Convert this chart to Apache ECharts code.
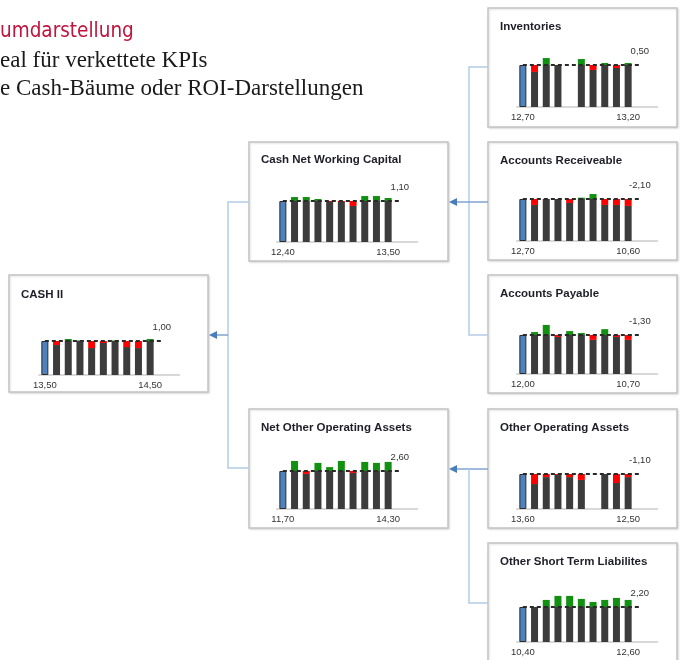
<!DOCTYPE html>
<html>
<head>
<meta charset="utf-8">
<script src="https://cdn.jsdelivr.net/npm/echarts@6/dist/echarts.min.js"></script>
<style>html,body{margin:0;padding:0;background:#fff;}#c{width:680px;height:660px;}</style>
</head>
<body>
<div id="c"></div>
<script>
// ---------- DATA ----------
const panelTitles = ['CASH II', 'Cash Net Working Capital', 'Net Other Operating Assets', 'Inventories',
  'Accounts Receiveable', 'Accounts Payable', 'Other Operating Assets', 'Other Short Term Liabilites'];
const startValues = [13.50, 12.40, 11.70, 12.70, 12.70, 12.00, 13.60, 10.40];
const endValues   = [14.50, 13.50, 14.30, 13.20, 10.60, 10.70, 12.50, 12.60];
// monthly deviations from the start level (null = no bar)
const devCash = [-1.6, 0.8, 0.2, -2.8, -0.8, 0.2, -2.4, -2.8, 0.8];
const devNWC  = [1.2, 1.2, 0.6, -0.3, -0.3, -1.5, 1.5, 1.5, 0.9];
const devNOA  = [3.1, -0.9, 2.5, 1.2, 3.1, -0.6, 2.8, 2.5, 2.8];
const devInv  = [-2.1, 2.1, 0, null, 1.8, -1.5, 0.6, -0.9, 0.6];
const devAR   = [-1.8, 0, 0, -1.2, 0.4, 1.5, -1.8, -1.8, -2.1];
const devAP   = [0.9, 3.1, -0.6, 1.2, 0.6, -1.5, 1.8, -0.6, -1.5];
const devOOA  = [-3.9, -1.2, -0.4, -1.2, -2.3, null, 0, -3.5, -1.2];
const devOSTL = [0, 2.1, 3.3, 3.3, 2.4, 1.5, 2.1, 2.7, 2.1];
const deviations = [devCash, devNWC, devNOA, devInv, devAR, devAP, devOOA, devOSTL];
const headerLines = ['umdarstellung', 'eal für verkettete KPIs', 'e Cash-Bäume oder ROI-Darstellungen'];

// ---------- LAYOUT ----------
const boxes = [[9,275,199,117],[249,142,199,119],[249,409,199,119],[488,8,189,119],
               [488,142,189,118],[488,275,189,118],[488,409,189,119],[488,543,189,120]];
// [gridLeft, dashedY, axisY, titleX, titleY]
const plots = [[39,341,375,21,295],[277,201,242,261,160],[277,471,509,261,428],[517,65,107,500,27],
               [517,199,241,500,161],[517,335,374,500,294],[517,474,509,500,428],[517,607,642,500,562]];
const slotW = 11.7, nSlots = 12;

const fmt = v => v.toFixed(2).replace('.', ',');

const grids = [], xAxes = [], yAxes = [], series = [];
panelTitles.forEach((t, i) => {
  const base = startValues[i];
  const devs = deviations[i];
  const [gl, dy, ay] = plots[i];
  const top = dy - 22;
  const h = ay - top;
  grids.push({left: gl, top: top, width: slotW * nSlots, height: h, containLabel: false, outerBoundsMode: 'none'});
  const labels = [];
  for (let k = 0; k < nSlots; k++) labels.push('');
  labels[0] = fmt(startValues[i]);
  labels[devs.length] = fmt(endValues[i]);
  xAxes.push({type: 'category', gridIndex: i, data: labels,
    axisTick: {show: false},
    axisLine: {lineStyle: {color: '#d9d9d9', width: 2}},
    axisLabel: {interval: 0, fontSize: 9.5, color: '#333', margin: 5, fontFamily: 'Liberation Sans'}});
  yAxes.push({type: 'value', gridIndex: i, min: 0, max: base * h / (ay - dy), show: false, splitLine: {show: false}});
  const blue = [], gray = [], red = [], green = [], line = [];
  for (let k = 0; k < nSlots; k++) {
    blue.push(k === 0 ? base : null);
    const d = (k >= 1 && k <= devs.length) ? devs[k - 1] : null;
    if (d === null || d === undefined) { gray.push(null); red.push(null); green.push(null); }
    else { gray.push(base + Math.min(0, d)); red.push(-Math.min(0, d)); green.push(Math.max(0, d)); }
    if (k <= devs.length + 1) line.push(k === devs.length + 1
      ? {value: base, label: {show: true, formatter: fmt(endValues[i] - startValues[i]), position: 'top', distance: 8,
         fontSize: 9.5, color: '#333', fontFamily: 'Liberation Sans'}}
      : base);
    else line.push(null);
  }
  const common = {type: 'bar', xAxisIndex: i, yAxisIndex: i, stack: 'p' + i, barWidth: 7, animation: false};
  series.push(Object.assign({}, common, {data: blue, itemStyle: {color: '#4f81bd', borderColor: '#2b2b2b', borderWidth: 1}}));
  series.push(Object.assign({}, common, {data: gray, itemStyle: {color: '#3c3c3c'}}));
  series.push(Object.assign({}, common, {data: red, itemStyle: {color: '#ff0000'}}));
  series.push(Object.assign({}, common, {data: green, itemStyle: {color: '#119011'}}));
  series.push({type: 'line', xAxisIndex: i, yAxisIndex: i, data: line, animation: false,
    symbol: 'circle', symbolSize: 1, showSymbol: true, itemStyle: {color: 'rgba(0,0,0,0)'},
    lineStyle: {color: '#2a2a2a', width: 2, type: [4, 3]}, z: 5});
});

// ---------- GRAPHICS ----------
const g = [];
boxes.forEach(b => g.push({type: 'rect', shape: {x: b[0], y: b[1], width: b[2], height: b[3]},
  style: {fill: '#fff', stroke: '#c4c4c4', lineWidth: 1.5, shadowBlur: 2, shadowColor: 'rgba(0,0,0,0.12)', shadowOffsetX: 1, shadowOffsetY: 1}, z: -10}));
panelTitles.forEach((t, i) => g.push({type: 'text', x: plots[i][3], y: plots[i][4],
  style: {text: t, fill: '#1e1e28', font: 'bold 11.5px "Liberation Sans", Arial', verticalAlign: 'middle'}, z: 10}));
const conn = '#b4cbe6', arrowCol = '#4a7ebb';
function pl(points, color) { g.push({type: 'polyline', shape: {points: points}, style: {stroke: color, lineWidth: 1.5, fill: null}, z: 1}); }
function arrow(x1, x2, y) {
  pl([[x1, y], [x2 + 6, y]], '#7fa3d1');
  g.push({type: 'polygon', shape: {points: [[x2, y], [x2 + 8, y - 4], [x2 + 8, y + 4]]}, style: {fill: arrowCol}, z: 2});
}
pl([[249, 202], [228, 202], [228, 468], [249, 468]], conn);
arrow(228, 209, 335);
pl([[488, 67], [469, 67], [469, 335], [488, 335]], conn);
arrow(488, 449, 202);
arrow(488, 449, 469);
pl([[469, 469], [469, 603], [488, 603]], conn);
g.push({type: 'text', x: 0, y: 32, style: {text: headerLines[0], fill: '#c0143c', font: '20.5px "Liberation Sans Narrow", "DejaVu Sans Condensed", sans-serif', verticalAlign: 'middle'}, z: 10});
g.push({type: 'text', x: 0, y: 61, style: {text: headerLines[1], fill: '#1a1a1a', font: '23px "Liberation Serif", serif', verticalAlign: 'middle'}, z: 10});
g.push({type: 'text', x: 0, y: 89, style: {text: headerLines[2], fill: '#1a1a1a', font: '23px "Liberation Serif", serif', verticalAlign: 'middle'}, z: 10});

const chart = echarts.init(document.getElementById('c'), null, {renderer: 'canvas'});
chart.setOption({animation: false, backgroundColor: '#fff', grid: grids, xAxis: xAxes, yAxis: yAxes, series: series, graphic: g});
</script>
</body>
</html>
